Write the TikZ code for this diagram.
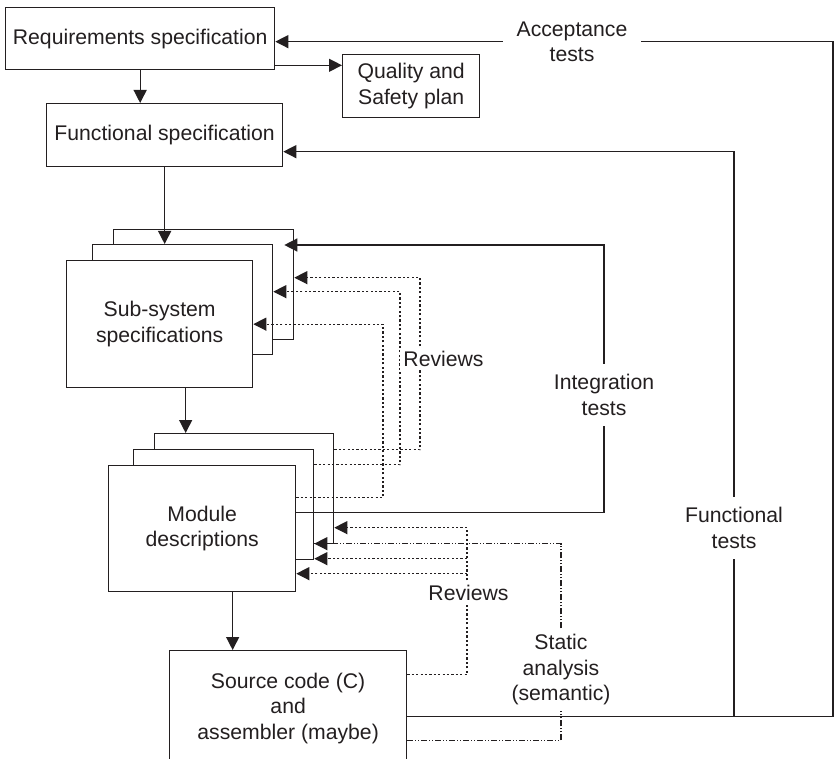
\documentclass[tikz,border=0pt]{standalone}
\usepackage{fontspec}
\setmainfont{Liberation Sans}
\usetikzlibrary{arrows.meta}
\definecolor{ink}{HTML}{231F20}
\begin{document}
\begin{tikzpicture}[x=0.5pt,y=-0.5pt,
  every node/.style={text=ink, font=\fontsize{10.6}{12.75}\selectfont, align=center},
  boxed/.style={draw=ink, fill=white, line width=0.65pt, inner sep=0pt, anchor=north west},
  flowline/.style={draw=ink, line width=0.65pt, -{Triangle[length=6.5pt,width=6.5pt]}},
  reviewline/.style={draw=ink, line width=0.55pt, dash pattern=on 1.1pt off 1.1pt,
    -{Triangle[length=6.5pt,width=6.5pt]}},
  staticline/.style={draw=ink, line width=0.55pt,
    dash pattern=on 3pt off 1pt on 0.5pt off 1pt on 0.5pt off 1pt,
    -{Triangle[length=6.5pt,width=6.5pt]}},
  tagtext/.style={fill=white, inner xsep=7pt, inner ysep=5pt},
  reviewtag/.style={fill=white, inner sep=1.5pt},
]
\useasboundingbox (0,0) rectangle (835,759);

% documents
\node[boxed, minimum width=134.5pt, minimum height=31pt] (req) at (5,7) {Requirements specification};
\node[boxed, minimum width=68.5pt, minimum height=31.5pt] (qsp) at (342,54) {Quality and\\Safety plan};
\node[boxed, minimum width=118pt, minimum height=31.5pt] (func) at (46,103) {Functional specification};

\node[boxed, minimum width=90pt, minimum height=55pt] (sub3) at (113,229) {};
\node[boxed, minimum width=90pt, minimum height=55pt] (sub2) at (92,244) {};
\node[boxed, minimum width=93pt, minimum height=63.5pt] (sub1) at (66,260) {Sub-system\\specifications};

\node[boxed, minimum width=89.5pt, minimum height=55pt] (mod3) at (154,433) {};
\node[boxed, minimum width=90pt, minimum height=55pt] (mod2) at (133,449) {};
\node[boxed, minimum width=93.5pt, minimum height=63pt] (mod1) at (108,465) {Module\\descriptions};

\node[boxed, minimum width=118.5pt, minimum height=57.5pt] (src) at (169,650) {Source code (C)\\and\\assembler (maybe)};

% columns of the feedback loops
\coordinate (accX) at (833,0);
\coordinate (ftX) at (734,0);
\coordinate (itX) at (604,0);
\coordinate (rvA) at (420,0);
\coordinate (rvB) at (400,0);
\coordinate (rvC) at (383,0);
\coordinate (rvL) at (467,0);
\coordinate (saX) at (561,0);

% ports
\coordinate (qin) at ([yshift=2.5pt]req.south east);
\coordinate (subout) at ([xshift=13pt]sub1.south);
\coordinate (modout) at ([xshift=15.25pt]mod1.south);
\coordinate (itout) at ([yshift=8pt]mod1.east);
\coordinate (itin) at ([xshift=-5pt,yshift=-8pt]sub3.north east);
\coordinate (srcout) at ([yshift=-4.25pt]src.east);
\coordinate (accin) at ([yshift=-1.5pt]req.east);
\coordinate (ftin) at ([yshift=-8.25pt]func.east);

\coordinate (rA1) at ([yshift=19.5pt]mod3.east);
\coordinate (rA2) at ([yshift=3.5pt]sub3.east);
\coordinate (rB1) at ([yshift=20pt]mod2.east);
\coordinate (rB2) at ([yshift=4pt]sub2.east);
\coordinate (rC1) at ([yshift=15.5pt]mod1.east);
\coordinate (rC2) at (sub1.east);

\coordinate (rL0) at ([yshift=16.75pt]src.east);
\coordinate (rL1) at ([yshift=-19.5pt]mod3.east);
\coordinate (rL2) at ([yshift=-27pt]mod2.east);
\coordinate (rL3) at ([yshift=-22.5pt]mod1.east);

\coordinate (sa0) at ([yshift=-16.25pt]src.east);
\coordinate (sa1) at ([yshift=-19.5pt]mod2.east);

% development flow
\draw[flowline] (req.south) -- (req.south |- func.north);
\draw[flowline] (qin) -- (qin -| qsp.west);
\draw[flowline] (func.south) -- (func.south |- sub2.north);
\draw[flowline] (subout) -- (subout |- mod3.north);
\draw[flowline] (modout) -- (modout |- src.north);

% reviews
\draw[reviewline] (rA1) -- (rA1 -| rvA) -- (rvA |- rA2) -- (rA2);
\draw[reviewline] (rB1) -- (rB1 -| rvB) -- (rvB |- rB2) -- (rB2);
\draw[reviewline] (rC1) -- (rC1 -| rvC) -- (rvC |- rC2) -- (rC2);

\draw[reviewline] (rL0) -- (rL0 -| rvL) -- (rvL |- rL1) -- (rL1);
\draw[reviewline] (rvL |- rL2) -- (rL2);
\draw[reviewline] (rvL |- rL3) -- (rL3);

% static analysis
\draw[staticline] (sa0) -- (sa0 -| saX) -- (saX |- sa1) -- (sa1);

\node[reviewtag] (rev1) at (443.5,359) {Reviews};
\node[reviewtag] (rev2) at (468.5,593) {Reviews};
\node[fill=white, inner xsep=2pt, inner ysep=3pt] (sat) at (561,670) {Static\\analysis\\(semantic)};

% tests
\draw[flowline] (itout) -- (itout -| itX) -- (itX |- itin) -- (itin);
\draw[flowline] (srcout) -- (srcout -| accX) -- (accX |- accin) -- (accin);
\draw[flowline] (srcout -| ftX) -- (ftX |- ftin) -- (ftin);

\node[tagtext] (acc) at (572,42) {Acceptance\\tests};
\node[tagtext] (itt) at (604,395) {Integration\\tests};
\node[tagtext] (ftt) at (734,528) {Functional\\tests};
\end{tikzpicture}
\end{document}
